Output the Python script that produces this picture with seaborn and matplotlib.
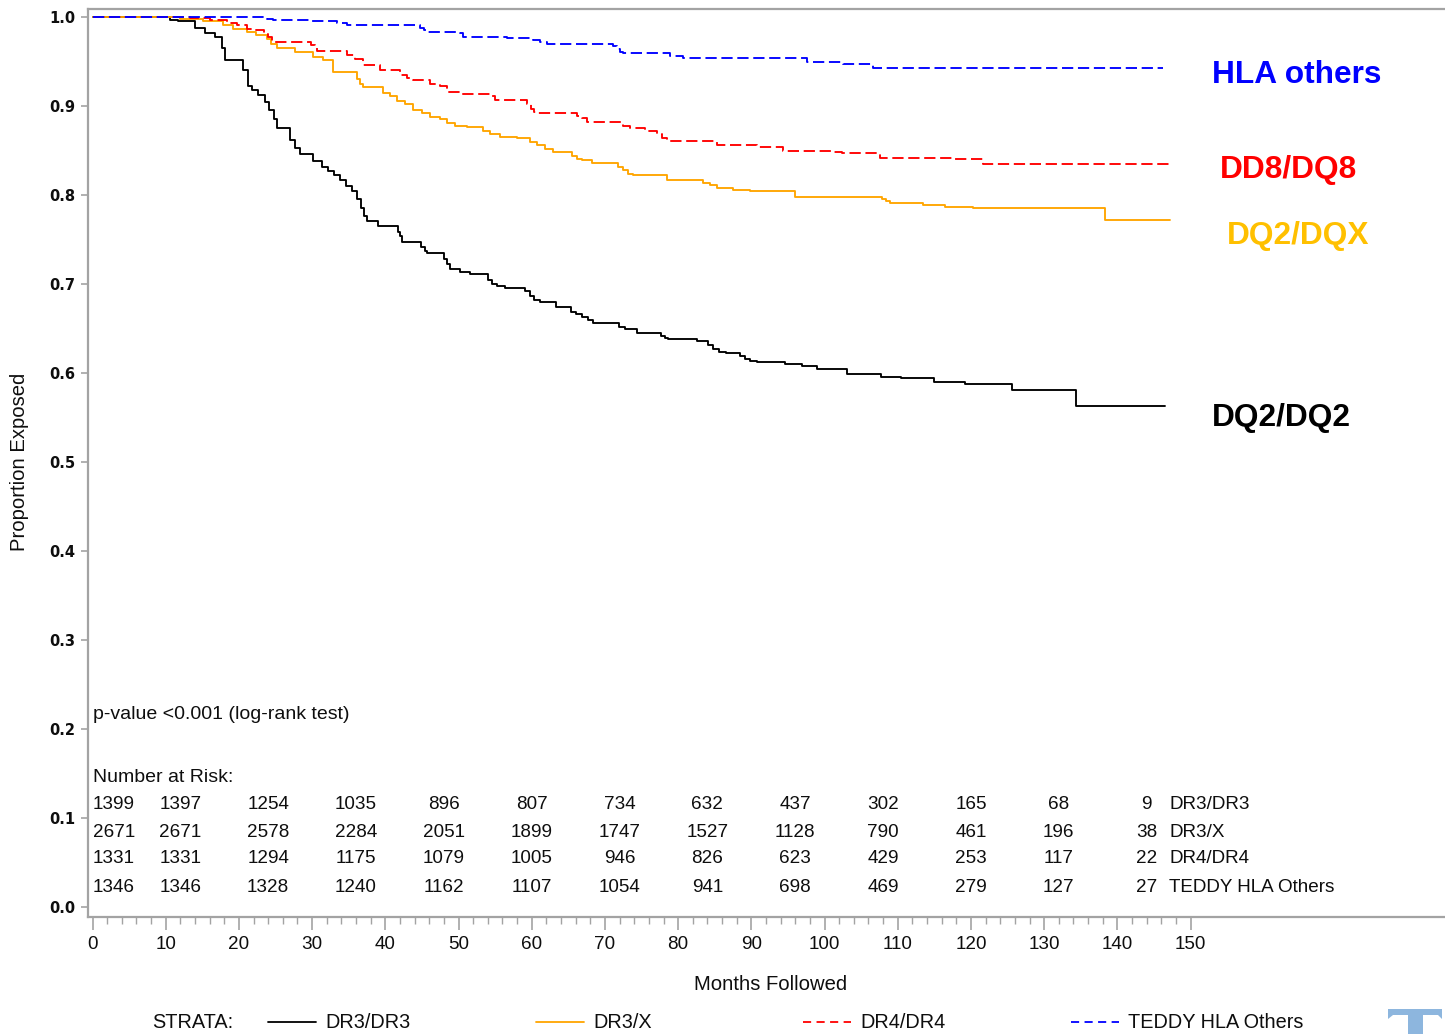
import numpy as np
import pandas as pd
import matplotlib
matplotlib.use("Agg")
import matplotlib.pyplot as plt
from matplotlib.lines import Line2D
from matplotlib.patches import Polygon
from matplotlib.ticker import FixedLocator, FormatStrFormatter
import seaborn as sns

# Kaplan-Meier style step curves: (month, proportion not yet exposed)
dr3_dr3 = [(0, 1.0), (10.6, 0.997), (11.7, 0.995), (14.0, 0.988), (15.4, 0.982), (16.7, 0.978),
           (17.7, 0.965), (18.1, 0.952), (20.6, 0.94), (21.2, 0.922), (21.8, 0.918), (22.6, 0.912),
           (23.6, 0.905), (24.1, 0.895), (24.8, 0.885), (25.2, 0.875), (27.0, 0.862), (27.7, 0.853),
           (28.4, 0.846), (30.1, 0.838), (31.4, 0.832), (32.2, 0.827), (33.0, 0.823), (33.8, 0.817),
           (34.6, 0.81), (35.5, 0.804), (36.1, 0.795), (36.7, 0.785), (37.1, 0.776), (37.5, 0.771),
           (39.0, 0.765), (41.7, 0.758), (42.0, 0.754), (42.3, 0.7475), (44.9, 0.742), (45.4, 0.737),
           (45.7, 0.735), (48.0, 0.728), (48.4, 0.722), (48.8, 0.717), (50.2, 0.714), (51.6, 0.711),
           (54.0, 0.705), (54.6, 0.700), (55.3, 0.698), (56.4, 0.696), (59.1, 0.692), (59.8, 0.686),
           (60.3, 0.682), (61.1, 0.680), (63.3, 0.674), (65.4, 0.669), (66.1, 0.666), (66.9, 0.663),
           (67.7, 0.660), (68.4, 0.6565), (71.9, 0.652), (72.8, 0.649), (74.4, 0.645), (77.7, 0.642),
           (78.2, 0.639), (78.6, 0.638), (82.6, 0.636), (84.1, 0.631), (84.8, 0.627), (85.6, 0.624),
           (86.5, 0.623), (88.5, 0.619), (89.1, 0.616), (89.8, 0.613), (90.8, 0.612), (94.6, 0.610),
           (96.9, 0.608), (98.9, 0.605), (103.1, 0.599), (107.7, 0.5955), (110.5, 0.594), (115.0, 0.590),
           (119.2, 0.588), (125.6, 0.581), (134.3, 0.563), (146.5, 0.563)]

dr3_x = [(0, 1.0), (12.0, 0.998), (15.1, 0.995), (17.8, 0.991), (19.2, 0.987), (21.1, 0.983),
         (22.3, 0.980), (23.8, 0.975), (24.4, 0.970), (25.2, 0.965), (27.7, 0.961), (30.1, 0.955),
         (31.5, 0.952), (32.9, 0.938), (36.1, 0.930), (36.5, 0.925), (37.0, 0.921), (39.7, 0.915),
         (40.6, 0.911), (41.6, 0.906), (42.7, 0.902), (43.8, 0.895), (45.0, 0.892), (46.1, 0.888),
         (47.5, 0.885), (48.4, 0.881), (49.5, 0.877), (51.2, 0.876), (53.4, 0.872), (54.3, 0.869),
         (55.7, 0.865), (58.0, 0.864), (59.8, 0.860), (60.7, 0.856), (61.8, 0.852), (62.9, 0.848),
         (65.5, 0.844), (66.2, 0.841), (66.9, 0.839), (68.2, 0.836), (71.8, 0.832), (72.5, 0.828),
         (73.2, 0.824), (73.8, 0.822), (78.5, 0.817), (83.4, 0.814), (84.4, 0.811), (85.3, 0.808),
         (87.5, 0.806), (89.8, 0.804), (96.0, 0.798), (107.9, 0.795), (108.4, 0.793), (109.0, 0.791),
         (113.5, 0.789), (116.5, 0.787), (120.3, 0.785), (138.3, 0.772), (147.2, 0.772)]

dr4_dr4 = [(0, 1.0), (13.3, 0.9985), (16.1, 0.9966), (18.4, 0.993), (19.7, 0.991), (21.1, 0.987),
           (22.2, 0.985), (23.4, 0.981), (24.0, 0.977), (24.5, 0.972), (29.9, 0.968), (30.4, 0.965),
           (30.7, 0.962), (34.8, 0.957), (35.9, 0.953), (37.0, 0.946), (39.3, 0.940), (42.0, 0.935),
           (43.0, 0.932), (43.8, 0.929), (46.1, 0.925), (47.5, 0.922), (48.4, 0.916), (50.2, 0.914),
           (54.3, 0.911), (55.0, 0.907), (59.4, 0.902), (59.9, 0.897), (60.3, 0.893), (60.7, 0.892),
           (66.2, 0.889), (66.9, 0.886), (67.6, 0.882), (72.5, 0.878), (73.4, 0.875), (75.5, 0.872),
           (77.1, 0.868), (77.8, 0.864), (78.5, 0.861), (85.3, 0.856), (90.8, 0.8535), (94.3, 0.850),
           (101.2, 0.848), (102.4, 0.847), (107.6, 0.842), (117.6, 0.840), (121.7, 0.835), (147.2, 0.835)]

hla_others = [(0, 1.0), (23.8, 0.9974), (24.7, 0.9966), (29.7, 0.995), (33.4, 0.993), (34.8, 0.991),
              (44.7, 0.988), (45.3, 0.985), (45.7, 0.9835), (50.2, 0.9816), (50.6, 0.978), (56.6, 0.976),
              (60.2, 0.974), (61.1, 0.972), (62.1, 0.970), (71.1, 0.967), (71.7, 0.964), (72.1, 0.961),
              (72.5, 0.960), (78.9, 0.9566), (80.7, 0.9535), (97.6, 0.9494), (102.5, 0.947),
              (106.6, 0.943), (146.2, 0.943)]

# Number-at-risk table
risk_months = [0, 12, 24, 36, 48, 60, 72, 84, 96, 108, 120, 132, 144]
risk_dr3_dr3 = [1399, 1397, 1254, 1035, 896, 807, 734, 632, 437, 302, 165, 68, 9]
risk_dr3_x = [2671, 2671, 2578, 2284, 2051, 1899, 1747, 1527, 1128, 790, 461, 196, 38]
risk_dr4_dr4 = [1331, 1331, 1294, 1175, 1079, 1005, 946, 826, 623, 429, 253, 117, 22]
risk_others = [1346, 1346, 1328, 1240, 1162, 1107, 1054, 941, 698, 469, 279, 127, 27]

strata_names = ["DR3/DR3", "DR3/X", "DR4/DR4", "TEDDY HLA Others"]
side_labels = ["DQ2/DQ2", "DQ2/DQX", "DD8/DQ8", "HLA others"]

W, H = 1445, 1034
sns.set_style("white")
plt.rcParams["font.family"] = ["Liberation Sans", "DejaVu Sans"]
TXT = "#0e0e0e"
GRID = "#a3a3a3"


def fx(px):
    return px / W


def fy(py):
    return 1 - py / H


fig = plt.figure(figsize=(W / 100, H / 100), dpi=100)
ax = fig.add_axes([fx(88), fy(917), fx(1460) - fx(88), fy(9) - fy(917)])

dash = (0, (6, 2.5))
styles = [
    (dr3_dr3, "black", "-"),
    (dr3_x, "#ffa500", "-"),
    (dr4_dr4, "#ff0000", dash),
    (hla_others, "#0000ff", dash),
]
for pts, col, ls in styles:
    df = pd.DataFrame(pts, columns=["month", "prop"])
    sns.lineplot(data=df, x="month", y="prop", ax=ax, color=col, linewidth=1.35,
                 linestyle=ls, drawstyle="steps-post", estimator=None, sort=False,
                 legend=False, zorder=3)

ax.set_xlim(-0.615, 186.8)
ax.set_ylim(-0.0112, 1.009)
ax.set_xlabel("")
ax.set_ylabel("")
ax.xaxis.set_major_locator(FixedLocator(list(range(0, 151, 10))))
ax.xaxis.set_minor_locator(FixedLocator(list(range(0, 151, 2))))
ax.yaxis.set_major_locator(FixedLocator(list(np.round(np.arange(0, 1.01, 0.1), 1))))
ax.yaxis.set_major_formatter(FormatStrFormatter("%.1f"))
ax.tick_params(axis="x", which="major", direction="out", length=9, width=1.2, color=GRID,
               pad=5, labelsize=13.6, labelcolor=TXT, bottom=True)
ax.tick_params(axis="x", which="minor", direction="out", length=5, width=1.0, color=GRID, bottom=True)
ax.tick_params(axis="y", which="major", direction="out", length=5, width=1.2, color=GRID,
               pad=4, labelcolor=TXT, left=True)
for lab in ax.get_yticklabels():
    lab.set_fontfamily("DejaVu Sans")
    lab.set_fontweight("bold")
    lab.set_fontsize(10.5)
for side in ["left", "top", "bottom", "right"]:
    ax.spines[side].set_color(GRID)
    ax.spines[side].set_linewidth(1.6)

# annotations inside the plot area
ax.text(0, 0.216, "p-value <0.001 (log-rank test)", fontsize=14, color=TXT, va="center", ha="left")
ax.text(0, 0.145, "Number at Risk:", fontsize=14, color=TXT, va="center", ha="left")
row_y = [0.1148, 0.0833, 0.0541, 0.0215]
for rows, yy, name in zip([risk_dr3_dr3, risk_dr3_x, risk_dr4_dr4, risk_others], row_y, strata_names):
    for i, (m, n) in enumerate(zip(risk_months, rows)):
        ax.text(m, yy, str(n), fontsize=13.6, color=TXT, va="center",
                ha="left" if i == 0 else "center")
    ax.text(147.1, yy, name, fontsize=13.6, color=TXT, va="center", ha="left")

# group labels on the right
fig.text(fx(1212), fy(75), side_labels[3], color="#0000ff", fontsize=22.8, fontweight="bold", va="center")
fig.text(fx(1220), fy(170), side_labels[2], color="#ff0000", fontsize=22.8, fontweight="bold", va="center")
fig.text(fx(1227), fy(236), side_labels[1], color="#ffc000", fontsize=22.8, fontweight="bold", va="center")
fig.text(fx(1212), fy(418), side_labels[0], color="black", fontsize=22.8, fontweight="bold", va="center")

# axis titles
fig.text(fx(20), fy(462), "Proportion Exposed", rotation=90, fontsize=14.6, color=TXT,
         ha="center", va="center")
fig.text(fx(771), fy(985), "Months Followed", fontsize=14.6, color=TXT, ha="center", va="center")

# strata legend along the bottom
fig.text(fx(152), fy(1023), "STRATA:", fontsize=14.3, color=TXT, va="center", ha="left")
leg_x = [268, 536, 803, 1071]
leg_style = [("black", "-"), ("#ffa500", "-"), ("#ff0000", (0, (4.5, 3))), ("#0000ff", (0, (4.5, 3)))]
for x0, (col, ls), name in zip(leg_x, leg_style, strata_names):
    fig.add_artist(Line2D([fx(x0), fx(x0 + 48)], [fy(1022), fy(1022)], transform=fig.transFigure,
                          color=col, linestyle=ls, linewidth=1.3))
    fig.text(fx(x0 + 57), fy(1023), name, fontsize=14.3, color=TXT, va="center", ha="left")

# serif "T" logo mark in the lower-right corner
logo_px = [(1388, 1009), (1442, 1009), (1442, 1019), (1438, 1015), (1423, 1015), (1423, 1040),
           (1408, 1040), (1408, 1015), (1393, 1015), (1388, 1019)]
fig.add_artist(Polygon([(fx(x), fy(y)) for x, y in logo_px], closed=True,
                       transform=fig.transFigure, facecolor="#8db6de", edgecolor="none"))

fig.savefig("out.png", dpi=100)
